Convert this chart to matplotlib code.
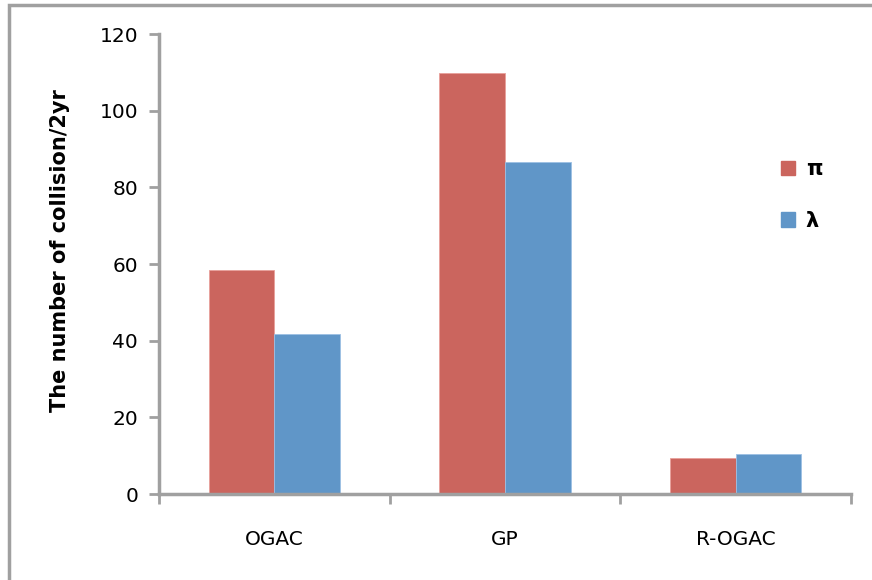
import numpy as np
import matplotlib.pyplot as plt
from matplotlib.patches import Patch, Rectangle

categories = ['OGAC', 'GP', 'R-OGAC']
pi_vals = [58.4, 109.9, 9.5]
lam_vals = [41.7, 86.5, 10.4]
series_names = ['\u03c0', '\u03bb']

red = '#CB655E'
blue = '#6096C8'
grey = '#A0A0A0'

fig = plt.figure(figsize=(8.72, 5.8), dpi=100)
ax = fig.add_axes([159/872, 1-494/580, (851-159)/872, (494-34)/580])

x = np.arange(len(categories))
w = 0.284
ax.bar(x - w/2, pi_vals, w, color=red, edgecolor='#E8A09A', linewidth=0.6)
ax.bar(x + w/2, lam_vals, w, color=blue, edgecolor='#9CC0E4', linewidth=0.6)

ax.set_xlim(-0.5, 2.5)
ax.set_ylim(0, 120)
ax.set_yticks(np.arange(0, 121, 20))
ax.set_xticks([-0.5, 0.5, 1.5, 2.5])
ax.set_xticklabels([])
ax.set_xticks(x, minor=True)
ax.set_xticklabels(categories, minor=True)
ax.tick_params(axis='x', which='minor', length=0, pad=26, labelsize=14.5)
ax.tick_params(axis='x', which='major', length=7, width=2, color=grey)
ax.tick_params(axis='y', length=7, width=2, color=grey, labelsize=14.5, pad=8)

for s in ['top', 'right']:
    ax.spines[s].set_visible(False)
for s in ['left', 'bottom']:
    ax.spines[s].set_color(grey)
    ax.spines[s].set_linewidth(2.5)

ax.set_ylabel('The number of collision/2yr', fontsize=15, fontweight='bold')
ax.yaxis.set_label_coords(-0.128, 0.53)

handles = [Patch(color=red), Patch(color=blue)]
fig.legend(handles, series_names, loc='center left', bbox_to_anchor=(762/872, 1-195/580),
           frameon=False, handlelength=0.7, handleheight=0.7, labelspacing=1.5,
           handletextpad=0.5, prop={'size': 15, 'weight': 'bold'})

fig.patches.append(Rectangle((9/872, -0.1), 1.2, 1 - 5/580 + 0.1, transform=fig.transFigure,
                             fill=False, edgecolor=grey, linewidth=2.5))

fig.savefig('out.png', dpi=100)
